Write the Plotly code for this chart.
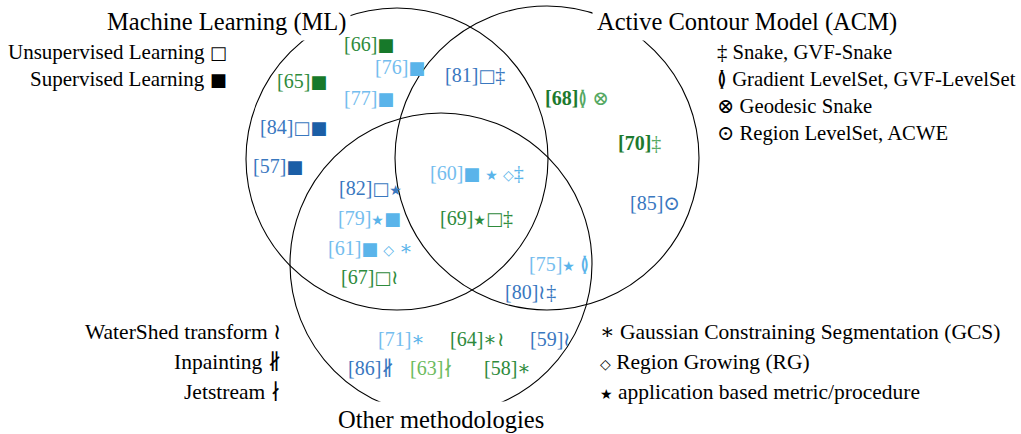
import plotly.graph_objects as go

# ---------------- data ----------------
set_names = ["Machine Learning (ML)", "Active Contour Model (ACM)", "Other methodologies"]

refs = ["66", "76", "65", "77", "81", "68", "84", "70", "57", "60", "82", "85",
        "79", "69", "61", "75", "67", "80", "71", "64", "59", "86", "63", "58"]
marks = ["■", "■", "■", "■", "□‡", "≬ ⊗", "□■", "‡", "■", "■ ⋆ ⋄‡", "□⋆", "⊙",
         "⋆■", "⋆□‡", "■ ⋄ ∗", "⋆ ≬", "□≀", "≀‡", "∗", "∗≀", "≀", "∦", "∤", "∗"]
groups = ["green", "light", "green", "light", "blue", "greenb", "blue", "greenb", "blue",
          "light", "blue", "blue", "light", "green", "light", "light", "green", "blue",
          "light", "green", "blue", "blue", "lgreen", "green"]

ml_legend_text = ["Unsupervised Learning", "Supervised Learning"]
ml_legend_sym = ["□", "■"]
acm_legend = ["‡ Snake, GVF-Snake", "≬ Gradient LevelSet, GVF-LevelSet",
              "⊗ Geodesic Snake", "⊙ Region LevelSet, ACWE"]
other_legend_left = ["WaterShed transform ≀", "Inpainting ∦", "Jetstream ∤"]
other_legend_right = ["∗ Gaussian Constraining Segmentation (GCS)",
                      "⋄ Region Growing (RG)", "⋆ application based metric/procedure"]

# ---------------- layout / geometry ----------------
W, H = 1021, 434
circle_cx = [397, 547, 441]
circle_cy = [159, 158, 264]
circle_r = [151, 152, 151]
title_pos = [(226, 22), (747, 22), (441, 419)]

label_x = [342, 373, 275, 342, 443, 543, 258, 616, 251, 428, 337, 628,
           336, 438, 326, 527, 339, 503, 376, 448, 528, 346, 408, 482]
label_y = [44, 67, 81, 98, 75, 98, 127, 143, 166, 173, 188, 203,
           218, 218, 248, 264, 277, 292, 339, 339, 339, 368, 368, 368]

style = {
    "green":  dict(text="#2e8b3c", mark="#2e8b3c", square="#17792a", bold=False),
    "greenb": dict(text="#1d7a2e", mark="#55a862", square="#17792a", bold=True),
    "blue":   dict(text="#3a78bf", mark="#3a78bf", square="#1b5ea6", bold=False),
    "light":  dict(text="#74bdee", mark="#5ab4ea", square="#5ab4ea", bold=False),
    "lgreen": dict(text="#6dbb5e", mark="#6dbb5e", square="#6dbb5e", bold=False),
}
# glyph substitutions / sizes to mimic the LaTeX symbols
sym_glyph = {"⋆": "★", "⋄": "◇"}
sym_size = {"■": 18, "□": 18, "⋆": 14, "⋄": 14}

FONT = "Liberation Serif, DejaVu Serif, serif"
BODY = 20
LEG = 21.5
TITLE = 24.5

fig = go.Figure()
fig.add_trace(go.Scatter(x=[0, W], y=[0, H], mode="markers",
                         marker=dict(opacity=0), hoverinfo="skip", showlegend=False))

for cx, cy, r in zip(circle_cx, circle_cy, circle_r):
    fig.add_shape(type="circle", xref="x", yref="y", x0=cx - r, x1=cx + r,
                  y0=cy - r, y1=cy + r, line=dict(color="black", width=1.1),
                  fillcolor="rgba(0,0,0,0)", layer="above")

ann = []
for name, (tx, ty) in zip(set_names, title_pos):
    ann.append(dict(x=tx, y=ty, text=name, xanchor="center", yanchor="middle",
                    bgcolor="white", borderpad=4,
                    font=dict(family=FONT, size=TITLE, color="black")))


def sym(ch, col):
    if ch == " ":
        return "&nbsp;"
    g = sym_glyph.get(ch, ch)
    if ch in sym_size:
        return ('<span style="color:%s;font-family:DejaVu Sans;font-size:%dpx">%s</span>'
                % (col, sym_size[ch], g))
    return '<span style="color:%s">%s</span>' % (col, g)


def colored(ref, mk, g):
    s = style[g]
    r = "[" + ref + "]"
    if s["bold"]:
        r = "<b>" + r + "</b>"
    out = '<span style="color:%s">%s</span>' % (s["text"], r)
    for ch in mk:
        col = s["square"] if ch == "■" else s["mark"]
        out += sym(ch, col)
    return out


def leg_text(t):
    return "".join(sym(c, "black") if c in sym_size else c for c in t)


for ref, mk, g, x, y in zip(refs, marks, groups, label_x, label_y):
    ann.append(dict(x=x, y=y, text=colored(ref, mk, g), xanchor="left", yanchor="middle",
                    font=dict(family=FONT, size=BODY)))

for t, s_, y in zip(ml_legend_text, ml_legend_sym, [52, 79]):
    ann.append(dict(x=229, y=y, text=t + " " + sym(s_, "black"), xanchor="right",
                    yanchor="middle", font=dict(family=FONT, size=LEG - 0.5, color="black")))
for t, y in zip(acm_legend, [52, 79, 106, 133]):
    ann.append(dict(x=715, y=y, text=t, xanchor="left", yanchor="middle",
                    font=dict(family=FONT, size=LEG - 0.8, color="black")))
for t, y in zip(other_legend_left, [332, 362, 392]):
    ann.append(dict(x=283, y=y, text=t, xanchor="right", yanchor="middle",
                    font=dict(family=FONT, size=LEG, color="black")))
for t, y in zip(other_legend_right, [332, 362, 392]):
    ann.append(dict(x=598, y=y, text=leg_text(t), xanchor="left",
                    yanchor="middle", font=dict(family=FONT, size=LEG, color="black")))

for a in ann:
    a.update(xref="x", yref="y", showarrow=False)

fig.update_layout(
    width=W, height=H, margin=dict(l=0, r=0, t=0, b=0),
    paper_bgcolor="white", plot_bgcolor="white",
    xaxis=dict(range=[0, W], visible=False, fixedrange=True),
    yaxis=dict(range=[H, 0], visible=False, fixedrange=True),
    annotations=ann, showlegend=False,
)

fig.write_html("out.html", config={"displayModeBar": False, "staticPlot": True},
               post_script="document.body.style.margin='0';document.body.style.padding='0';"
                           "document.body.style.overflow='hidden';")
